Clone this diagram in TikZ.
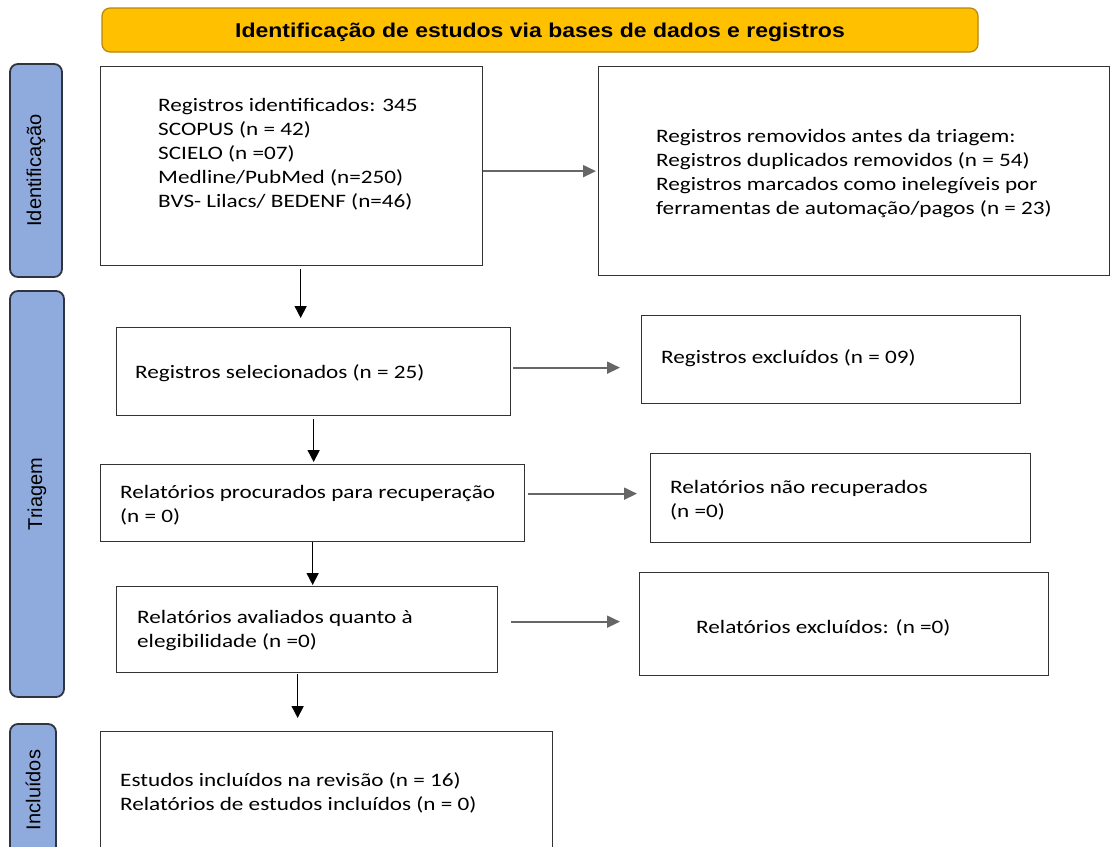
\documentclass[tikz,border=0pt]{standalone}
\usepackage{fontspec}
\setmainfont[FakeStretch=1.22]{Carlito}
\newfontfamily\arialfont{Liberation Sans}
\newfontfamily\topofont[FakeStretch=1.15]{Liberation Sans}
\usetikzlibrary{arrows.meta, positioning}
\definecolor{topoorange}{HTML}{FFC000}
\definecolor{topoedge}{HTML}{B8860B}
\definecolor{faseblue}{HTML}{8FAADC}
\definecolor{faseedge}{HTML}{2F3440}

\begin{document}
\begin{tikzpicture}[
    x=1pt, y=-1pt,
    font=\fontsize{19}{24}\selectfont,
    frame/.style={draw=black!80, line width=1.3pt, anchor=north west, inner sep=0pt},
    txt/.style={anchor=west, align=left, inner sep=0pt},
    fase/.style={draw=faseedge, line width=1.8pt, fill=faseblue, rounded corners=8pt, rotate=90, inner sep=0pt, font=\arialfont\fontsize{20}{24}\selectfont},
    topo/.style={draw=topoedge, line width=1.2pt, fill=topoorange, rounded corners=8pt, inner sep=0pt, text depth=0pt, font=\topofont\bfseries\fontsize{20}{24}\selectfont},
    seta/.style={-{Triangle[length=12pt, width=12pt]}, line width=1.6pt},
    setalat/.style={-{Triangle[length=13pt, width=12pt]}, line width=1.8pt, draw=black!60}
]
\clip (0,0) rectangle (1111,846);

% cabecalho
\node[topo, minimum width=876pt, minimum height=44pt] (topo) at (540,30) {Identificação de estudos via bases de dados e registros};

% fases
\node[fase, minimum width=213pt, minimum height=52pt] (fid) at (36,170.5) {Identificação};
\node[fase, minimum width=406pt, minimum height=54pt] (ftri) at (37,494) {Triagem};
\node[fase, minimum width=132pt, minimum height=46pt] (finc) at (33,790) {Incluídos};

% caixas
\node[frame, minimum width=382pt, minimum height=199pt] (ident) at (100,66) {};
\node[frame, minimum width=511pt, minimum height=209pt] (remov) at (598,66) {};
\node[frame, minimum width=394pt, minimum height=88pt] (selec) at (116,327) {};
\node[frame, minimum width=379pt, minimum height=88pt] (excl) at (641,315) {};
\node[frame, minimum width=424pt, minimum height=77pt] (procur) at (100,464) {};
\node[frame, minimum width=380pt, minimum height=89pt] (naorec) at (650,453) {};
\node[frame, minimum width=381pt, minimum height=86pt] (aval) at (116,586) {};
\node[frame, minimum width=409pt, minimum height=103pt] (exclav) at (639,572) {};
\node[frame, minimum width=452pt, minimum height=122pt] (incl) at (100,731) {};

% textos
\node[txt] (identt) at ([xshift=58pt, yshift=11.5pt]ident.west) {Registros identificados: 345\\SCOPUS (n = 42)\\SCIELO (n =07)\\Medline/PubMed (n=250)\\BVS- Lilacs/ BEDENF (n=46)};
\node[txt] (removt) at ([xshift=58pt, yshift=-2pt]remov.west) {Registros removidos antes da triagem:\\Registros duplicados removidos (n = 54)\\Registros marcados como inelegíveis por\\ferramentas de automação/pagos (n = 23)};
\node[txt] (select) at ([xshift=19pt, yshift=-2pt]selec.west) {Registros selecionados (n = 25)};
\node[txt] (exclt) at ([xshift=20pt, yshift=1pt]excl.west) {Registros excluídos (n = 09)};
\node[txt] (procurt) at ([xshift=20pt, yshift=-2pt]procur.west) {Relatórios procurados para recuperação\\(n = 0)};
\node[txt] (naorect) at ([xshift=20pt, yshift=-2.5pt]naorec.west) {Relatórios não recuperados\\(n =0)};
\node[txt] (avalt) at ([xshift=21pt, yshift=-1pt]aval.west) {Relatórios avaliados quanto à\\elegibilidade (n =0)};
\node[txt] (exclavt) at ([xshift=57pt, yshift=-3.5pt]exclav.west) {Relatórios excluídos: (n =0)};
\node[txt] (inclt) at ([xshift=20pt]incl.west) {Estudos incluídos na revisão (n = 16)\\Relatórios de estudos incluídos (n = 0)};

% setas verticais
\draw[seta, shorten <=3pt, shorten >=9pt] ([xshift=9pt]ident.south) -- ([xshift=9pt]ident.south |- selec.north);
\draw[seta, shorten <=3pt, shorten >=2pt] (selec.south) -- (selec.south |- procur.north);
\draw[seta, shorten >=1pt] (procur.south) -- (procur.south |- aval.north);
\draw[seta, shorten <=1pt, shorten >=13pt] ([xshift=-9.5pt]aval.south) -- ([xshift=-9.5pt]aval.south |- incl.north);

% setas laterais
\draw[setalat, shorten >=2pt] (remov.west -| ident.east) -- (remov.west);
\draw[setalat, shorten <=2pt, shorten >=21pt] ([yshift=4pt]selec.east) -- ([yshift=4pt]selec.east -| excl.west);
\draw[setalat, shorten <=3pt, shorten >=13pt] ([yshift=9.5pt]procur.east) -- ([yshift=9.5pt]procur.east -| naorec.west);
\draw[setalat, shorten <=13pt, shorten >=19pt] ([yshift=8pt]aval.east) -- ([yshift=8pt]aval.east -| exclav.west);
\end{tikzpicture}
\end{document}
